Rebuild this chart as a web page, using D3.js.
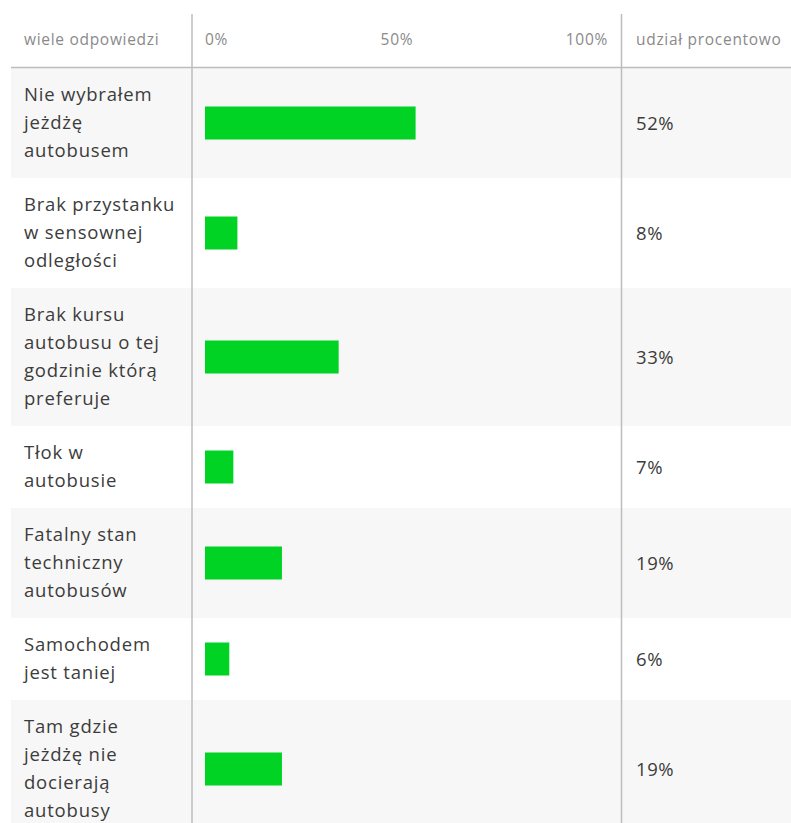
<!DOCTYPE html>
<html>
<head>
<meta charset="utf-8">
<script src="https://cdn.jsdelivr.net/npm/d3@7"></script>
<style>
  html, body { margin: 0; padding: 0; background: #fff; }
  svg { display: block; font-family: "Open Sans", "Noto Sans", sans-serif; }
</style>
</head>
<body>
<svg id="chart" width="791" height="823"></svg>
<script>
const categories = [
  "Nie wybrałem\njeżdżę\nautobusem",
  "Brak przystanku\nw sensownej\nodległości",
  "Brak kursu\nautobusu o tej\ngodzinie którą\npreferuje",
  "Tłok w\nautobusie",
  "Fatalny stan\ntechniczny\nautobusów",
  "Samochodem\njest taniej",
  "Tam gdzie\njeżdżę nie\ndocierają\nautobusy"
];
const values = [52, 8, 33, 7, 19, 6, 19];
const tickValues = [0, 50, 100];
const tickLabels = ["0%", "50%", "100%"];
const headerLeft = "wiele odpowiedzi";
const headerRight = "udział procentowo";

const W = 791, H = 823;
const svg = d3.select("#chart");

const x = d3.scaleLinear().domain([0, 100]).range([205, 610]);

const headerH = 68, lineH = 28, pad = 13;
const rows = [];
let yCur = headerH;
categories.forEach((c, i) => {
  const lines = c.split("\n");
  const h = lines.length * lineH + 2 * pad;
  rows.push({ label: c, lines, value: values[i], y: yCur, h, i });
  yCur += h;
});

// row backgrounds
svg.append("g").selectAll("rect").data(rows).join("rect")
  .attr("x", 11).attr("y", d => d.y).attr("width", W - 11).attr("height", d => d.h)
  .attr("fill", d => d.i % 2 === 0 ? "#f7f7f7" : "#ffffff");

// header line
svg.append("line").attr("x1", 11).attr("x2", W).attr("y1", 67.5).attr("y2", 67.5)
  .attr("stroke", "#bdbdbd").attr("stroke-width", 1.5);

// vertical separators
[192, 621.5].forEach(vx => {
  svg.append("line").attr("x1", vx).attr("x2", vx).attr("y1", 14).attr("y2", H)
    .attr("stroke", "#bdbdbd").attr("stroke-width", 1.5);
});

// header texts
const hdr = svg.append("g").attr("font-size", 15.5).attr("letter-spacing", 0.7).attr("fill", "#8a8a8a");
hdr.append("text").attr("x", 24).attr("y", 45).text(headerLeft);
hdr.append("text").attr("x", 636).attr("y", 45).text(headerRight);

// tick labels laid out space-between across the scale range
const tickG = hdr.append("g");
const tickTexts = tickG.selectAll("text").data(tickValues).join("text")
  .attr("y", 45).text((d, i) => tickLabels[i]);
const [r0, r1] = [x(tickValues[0]), x(tickValues[tickValues.length - 1]) - 2];
const widths = tickTexts.nodes().map(n => n.getComputedTextLength());
const gap = (r1 - r0 - d3.sum(widths)) / (widths.length - 1);
let cx = r0;
tickTexts.each(function(d, i) {
  d3.select(this).attr("x", cx);
  cx += widths[i] + gap;
});

// category labels
const labG = svg.append("g").attr("font-size", 18.5).attr("letter-spacing", 0.8).attr("fill", "#3c3c3c");
rows.forEach(r => {
  const t = labG.append("text");
  r.lines.forEach((ln, j) => {
    t.append("tspan").attr("x", 24).attr("y", r.y + pad + j * lineH + 20).text(ln);
  });
});

// bars
svg.append("g").selectAll("rect").data(rows).join("rect")
  .attr("x", x(0)).attr("y", d => d.y + d.h / 2 - 16.5)
  .attr("width", d => x(d.value) - x(0)).attr("height", 33)
  .attr("fill", "#00d324");

// value labels
svg.append("g").attr("font-size", 18.5).attr("letter-spacing", 0.6).attr("fill", "#3c3c3c")
  .selectAll("text").data(rows).join("text")
  .attr("x", 636).attr("y", d => d.y + d.h / 2 + 7)
  .text(d => d.value + "%");
</script>
</body>
</html>
